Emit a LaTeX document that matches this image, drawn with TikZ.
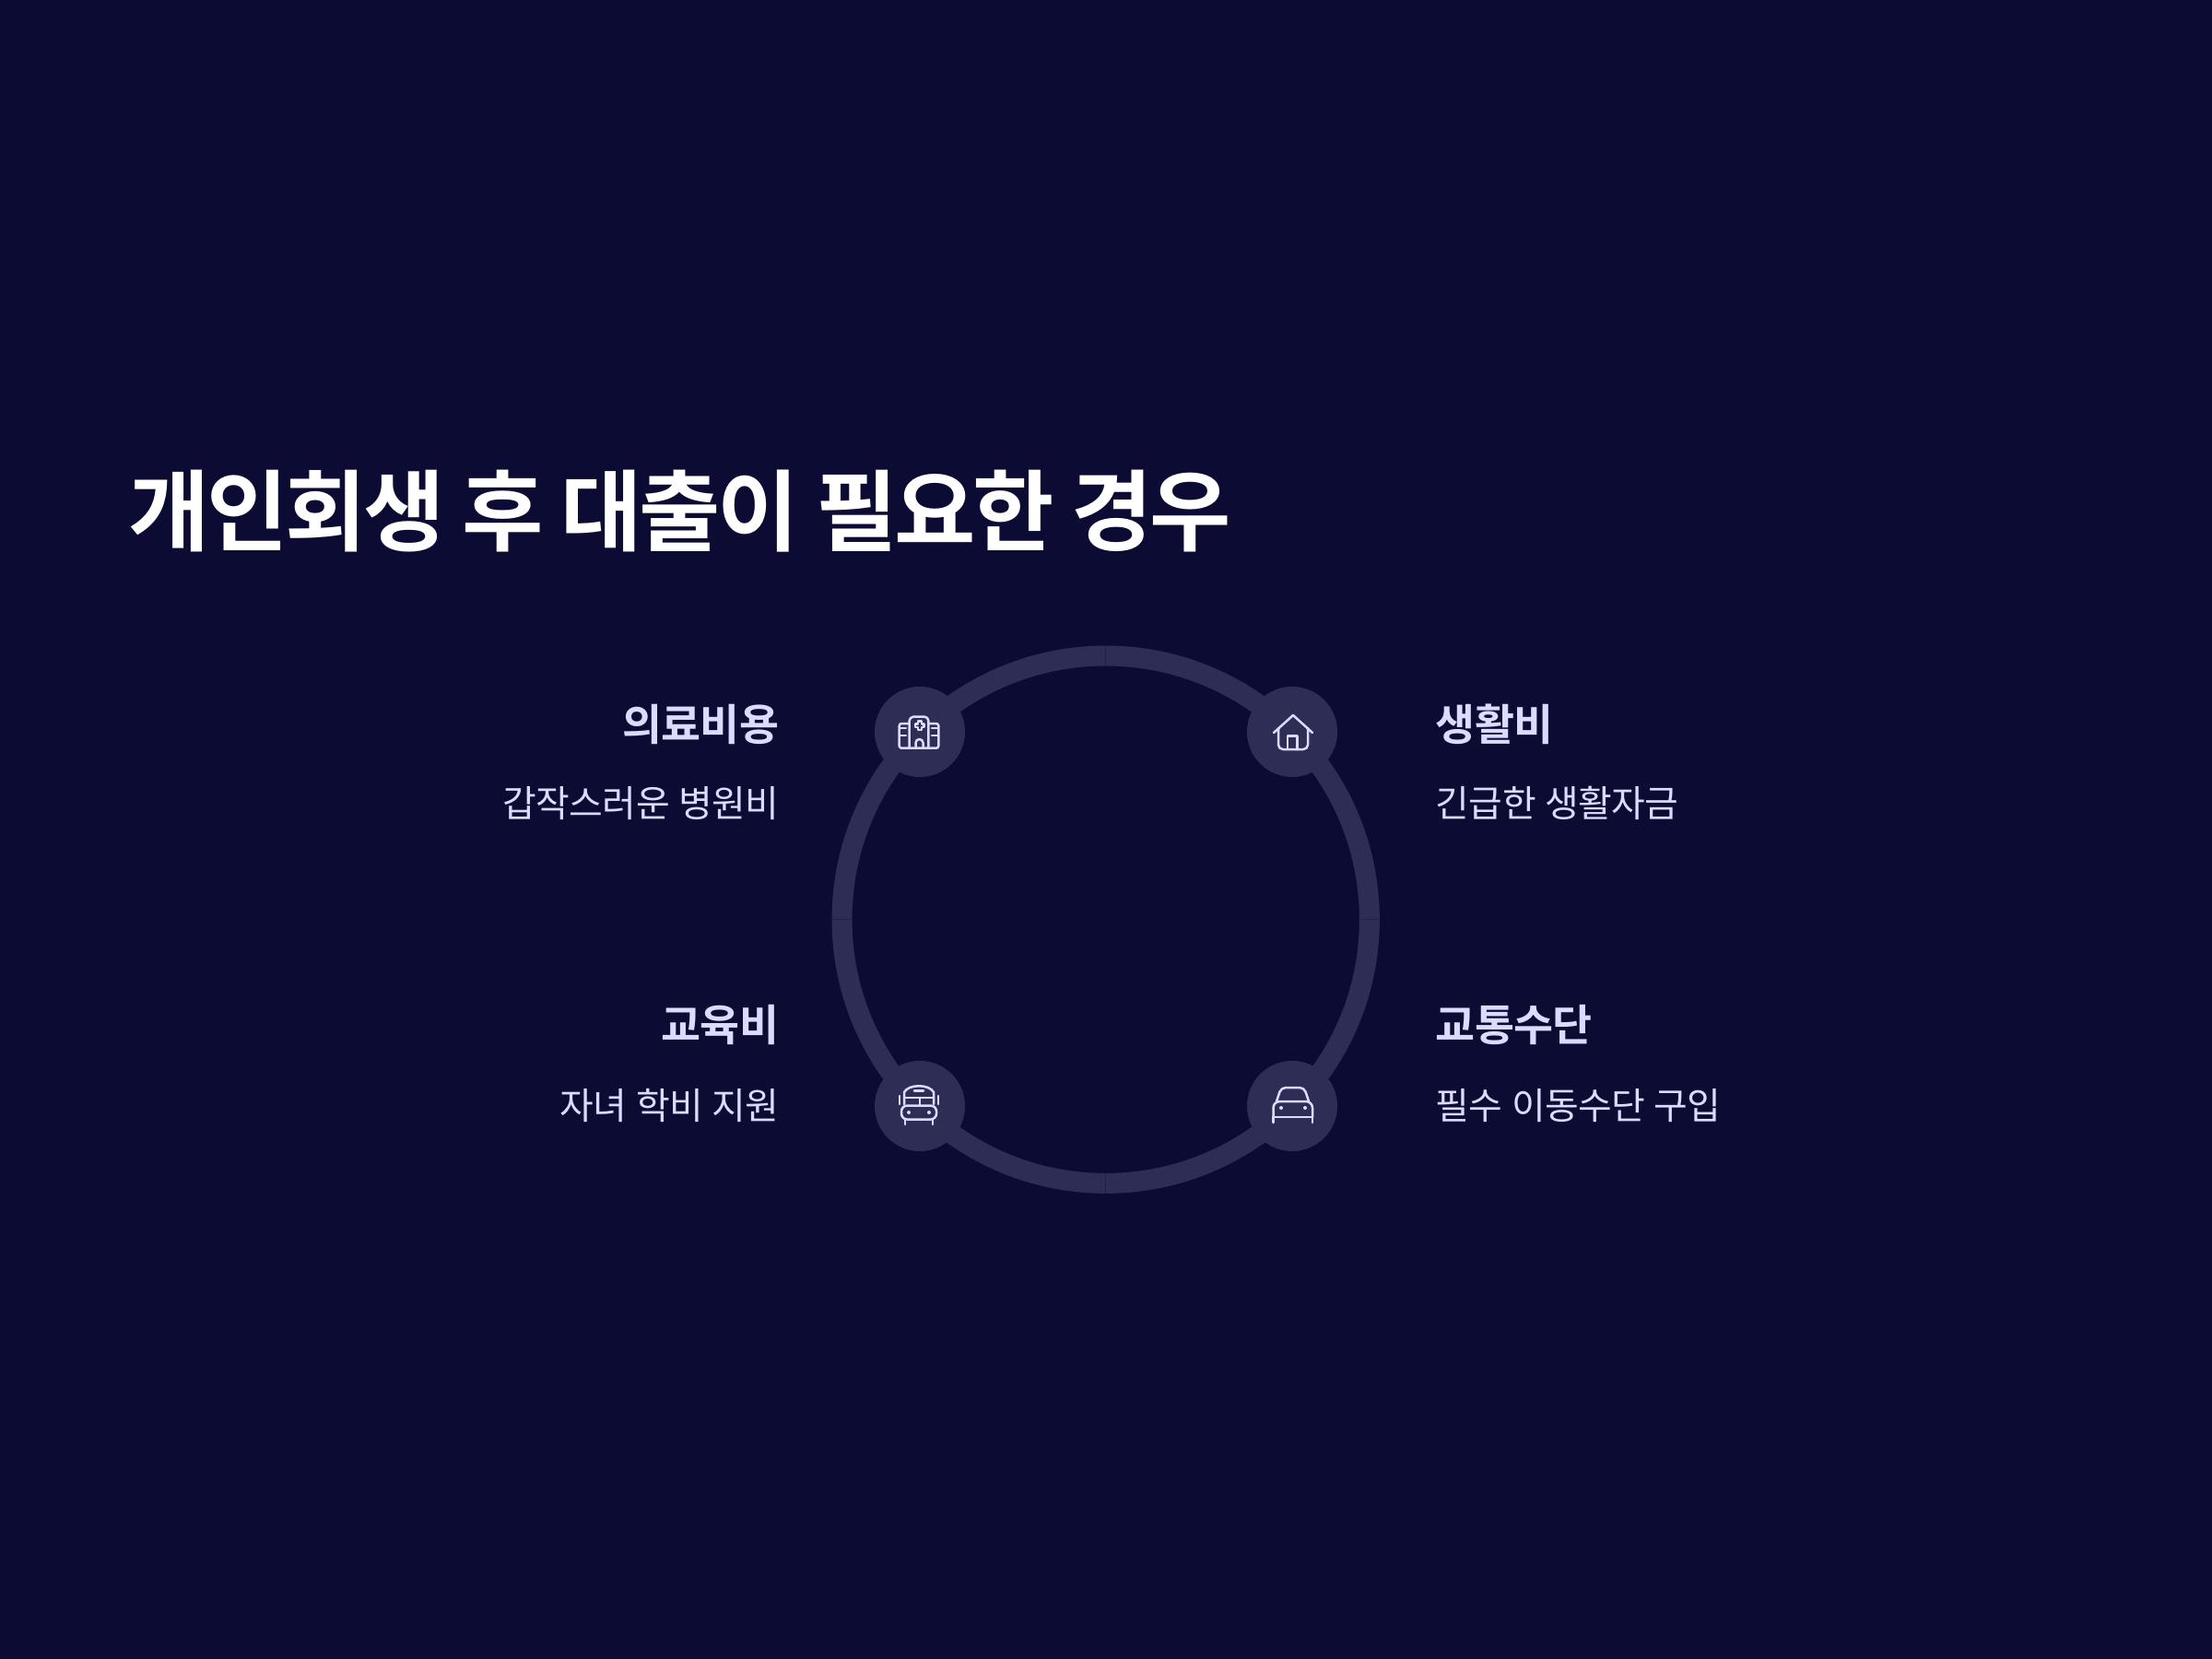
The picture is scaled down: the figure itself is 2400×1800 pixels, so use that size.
\documentclass[tikz,border=0pt]{standalone}
\usepackage{fontspec}
\setmainfont{Noto Sans CJK KR}
\newfontfamily\ttlfont[LetterSpace=-3.4]{Noto Sans CJK KR Bold}
\newfontfamily\hdfont[LetterSpace=-1.5]{Noto Sans CJK KR Bold}
\newfontfamily\sbfont[LetterSpace=-1.5,WordSpace=1.15]{Noto Sans CJK KR}
\definecolor{bgc}{HTML}{0C0B34}
\definecolor{ringc}{HTML}{2D2D55}
\definecolor{iconc}{HTML}{D9DCFF}
\tikzset{x=0.01cm,y=-0.01cm,
  ring/.style={circle,draw=ringc,line width=0.22cm,minimum size=5.72cm,inner sep=0pt},
  seam/.style={draw=bgc,line width=0.006cm,opacity=0.35},
  hub/.style={circle,fill=ringc,minimum size=0.98cm,inner sep=0pt},
  ttl/.style={anchor=base west,inner sep=0pt,text=white,font=\ttlfont\fontsize{27.3pt}{30pt}\selectfont},
  hdl/.style={inner sep=0pt,text=iconc,font=\hdfont\fontsize{13.3pt}{16pt}\selectfont},
  hdr/.style={hdl,anchor=base east},
  hdleft/.style={hdl,anchor=base west},
  sbl/.style={inner sep=0pt,text=iconc,font=\sbfont\fontsize{11.35pt}{14pt}\selectfont},
  sbr/.style={sbl,anchor=base east},
  sbleft/.style={sbl,anchor=base west},
  ico/.style={draw=iconc,line width=0.025cm,line cap=round,line join=round},
  dot/.style={fill=iconc}
}
\begin{document}
\begin{tikzpicture}
\useasboundingbox (0,0) rectangle (2400,1800);
\fill[bgc] (0,0) rectangle (2400,1800);
\node[ttl] (title) at (138.5,590) {개인회생 후 대출이 필요한 경우};
\node[ring] (loop) at (1199.7,997.7) {};
\draw[seam] (loop.north) -- ++(0,22);
\draw[seam] (loop.south) -- ++(0,-22);
\draw[seam] (loop.west) -- ++(22,0);
\draw[seam] (loop.east) -- ++(-22,0);
\node[hub] (hosp) at (998,794) {};
\node[hub] (home) at (1402,794) {};
\node[hub] (bus) at (998,1200) {};
\node[hub] (car) at (1402,1200) {};
% hospital
\begin{scope}[shift={(hosp.center)},ico]
\draw[rounded corners=1.2pt] (-11.3,17.7) -- (-11.3,-16.3) -- (9.3,-16.3) -- (9.3,17.7);
\draw[rounded corners=0.7pt] (-11.3,-9) -- (-22.3,-9) -- (-22.3,17.7) -- (20.3,17.7) -- (20.3,-9) -- (9.3,-9);
\draw (-22,-4) -- (-15,-4) (-22,4) -- (-15,4) (13,-4) -- (20,-4) (13,4) -- (20,4);
\draw (-4.5,17.7) -- (-4.5,12) arc[start angle=180,end angle=360,radius=4] -- (3.5,17.7);
\draw (-2.2,-11.5) -- (1.8,-11.5) -- (1.8,-8.5) -- (4.5,-8.5) -- (4.5,-5) -- (1.8,-5) -- (1.8,-2) -- (-2.2,-2) -- (-2.2,-5) -- (-5,-5) -- (-5,-8.5) -- (-2.2,-8.5) -- cycle;
\end{scope}
% house
\begin{scope}[shift={(home.center)},ico]
\draw (-20,1) -- (1,-18) -- (22,1);
\draw[rounded corners=1.4pt] (-15,-4) -- (-15,19) -- (17,19) -- (17,-4);
\draw (-5,19) -- (-5,4.5) -- (5.5,4.5) -- (5.5,19);
\end{scope}
% bus
\begin{scope}[shift={(bus.center)},ico]
\draw (-17,-2) -- (-17,-15) .. controls (-12,-24) and (10,-24) .. (15,-15) -- (15,-2);
\draw (-17,-9) -- (15,-9) (0,-9) -- (0,-1);
\draw (-6,-16.5) -- (4,-16.5);
\draw[rounded corners=1.8pt] (-20,14.5) -- (-20,-0.5) -- (18,-0.5) -- (18,14.5) -- cycle;
\draw (-16,14.5) -- (-16,20) (14,14.5) -- (14,20);
\draw (-22,-11) -- (-22,-2) (20,-11) -- (20,-2);
\fill[dot,draw=none] (-12,7) circle (2) (10,7) circle (2);
\end{scope}
% car
\begin{scope}[shift={(car.center)},ico]
\draw[rounded corners=1.4pt] (-17,-5) -- (-12,-20) -- (13,-20) -- (18,-5);
\draw[rounded corners=2pt] (-20.5,12) -- (-20.5,-5) -- (22,-5) -- (22,12);
\draw (-20.5,12) -- (22,12);
\draw (-20.5,12) -- (-20.5,18) (22,12) -- (22,18);
\fill[dot,draw=none] (-12,2) circle (2) (14,2) circle (2);
\end{scope}
\node[hdr] (h1) at (846,803) {의료비용};
\node[sbr] (s1) at (846,886) {갑작스러운 병원비};
\node[hdleft] (h2) at (1557,803) {생활비};
\node[sbleft] (s2) at (1557,886) {긴급한 생활자금};
\node[hdr] (h3) at (846,1129) {교육비};
\node[sbr] (s3) at (846,1214) {자녀 학비 지원};
\node[hdleft] (h4) at (1557,1129) {교통수단};
\node[sbleft] (s4) at (1557,1214) {필수 이동수단 구입};
\end{tikzpicture}
\end{document}
